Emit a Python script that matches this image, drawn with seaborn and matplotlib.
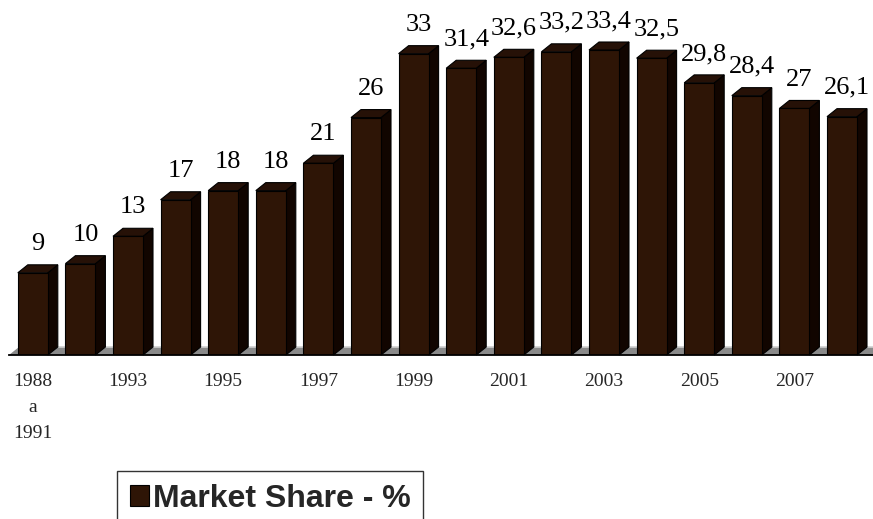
import matplotlib
matplotlib.use("Agg")
import matplotlib.pyplot as plt
from matplotlib.patches import Polygon, Patch
import numpy as np
import seaborn as sns

# Market share by period
periods = ["1988 a 1991", "1992", "1993", "1994", "1995", "1996", "1997", "1998",
           "1999", "2000", "2001", "2002", "2003", "2004", "2005", "2006", "2007", "2008"]
share = [9, 10, 13, 17, 18, 18, 21, 26, 33, 31.4, 32.6, 33.2, 33.4, 32.5, 29.8, 28.4, 27, 26.1]
tick_labels = ["1988\na\n1991", "1993", "1995", "1997", "1999", "2001", "2003", "2005", "2007"]
series_name = "Market Share - %"

FRONT = "#2e1506"
SIDE = "#110500"
TOP = "#261107"
FLOOR = "#8a8a8a"
DX, DY = 10, 8  # depth of the 3D extrusion in pixels

sns.set_style("white")
plt.rcParams["font.family"] = ["Liberation Serif", "DejaVu Serif"]

fig = plt.figure(figsize=(8.73, 5.19), dpi=100)
W, H = 873, 519
ax = fig.add_axes([9 / W, (H - 355) / H, 1 - 9 / W, (355 - 8) / H])

sns.barplot(x=periods, y=share, color=FRONT, saturation=1, width=0.63,
            edgecolor="black", linewidth=0.8, ax=ax, zorder=4)

ax.set_xlim(-0.5, -0.5 + (W - 9) / 47.6)
ax.set_ylim(0, 38)


def shifted(x, y, dxp=0.0, dyp=0.0):
    px, py = ax.transData.transform((x, y))
    return ax.transData.inverted().transform((px + dxp, py + dyp))


# floor strip under the bars
x_left, x_right = -0.5, ax.get_xlim()[1] + 1
floor = Polygon([shifted(x_left, 0), shifted(x_left, 0, DX, DY),
                 shifted(x_right, 0, DX, DY), shifted(x_right, 0)],
                closed=True, facecolor=FLOOR, edgecolor="none", zorder=1, clip_on=False)
ax.add_patch(floor)
ax.plot([shifted(x_left, 0, DX, DY)[0], x_right], [shifted(x_left, 0, DX, DY)[1]] * 2,
        color="#cfcfcf", lw=1.2, zorder=1.5, clip_on=False)

# side and top faces of each bar, plus its value label
for patch, val in zip(ax.patches, share):
    x0 = patch.get_x()
    x1 = x0 + patch.get_width()
    h = patch.get_height()
    side = Polygon([shifted(x1, 0), shifted(x1, 0, DX, DY), shifted(x1, h, DX, DY), shifted(x1, h)],
                   closed=True, facecolor=SIDE, edgecolor="black", lw=0.8, zorder=3, clip_on=False)
    top = Polygon([shifted(x0, h), shifted(x0, h, DX, DY), shifted(x1, h, DX, DY), shifted(x1, h)],
                  closed=True, facecolor=TOP, edgecolor="black", lw=0.8, zorder=3, clip_on=False)
    ax.add_patch(side)
    ax.add_patch(top)
    label = f"{val:g}".replace(".", ",")
    ax.annotate(label, xy=(x0 + patch.get_width() / 2, h), xytext=(3.6, 16.5),
                textcoords="offset points", ha="center", va="baseline",
                fontsize=19, color="black", zorder=6, annotation_clip=False)

# axes styling
for s in ["top", "right", "left"]:
    ax.spines[s].set_visible(False)
ax.spines["bottom"].set_color("black")
ax.spines["bottom"].set_linewidth(1.3)
ax.spines["bottom"].set_zorder(5)
ax.set_yticks([])
ax.set_ylabel("")
ax.set_xlabel("")
ax.set_xticks(np.arange(-0.5, len(periods), 1))
ax.set_xticklabels([])
ax.tick_params(axis="x", which="major", direction="out", length=4.5, width=1.2, color="black")
ax.set_xticks(np.arange(0, len(periods), 2), minor=True)
ax.set_xticklabels(tick_labels, minor=True, fontsize=14, linespacing=1.68)
ax.tick_params(axis="x", which="minor", length=0, pad=13)
ax.grid(False)

leg = fig.legend(handles=[Patch(facecolor=FRONT, edgecolor="black", linewidth=0.8, label=series_name)],
                 loc="upper left", bbox_to_anchor=(117 / W, 1 - 471 / H),
                 prop={"family": ["Liberation Sans", "DejaVu Sans"], "weight": "bold", "size": 23},
                 frameon=True, fancybox=False, shadow=False, borderpad=0.4,
                 handlelength=0.6, handleheight=0.6, handletextpad=0.12, borderaxespad=0)
leg.get_frame().set_edgecolor("black")
leg.get_frame().set_linewidth(1.0)
leg.get_frame().set_facecolor("white")

fig.savefig("out.png", dpi=100, facecolor="white")
